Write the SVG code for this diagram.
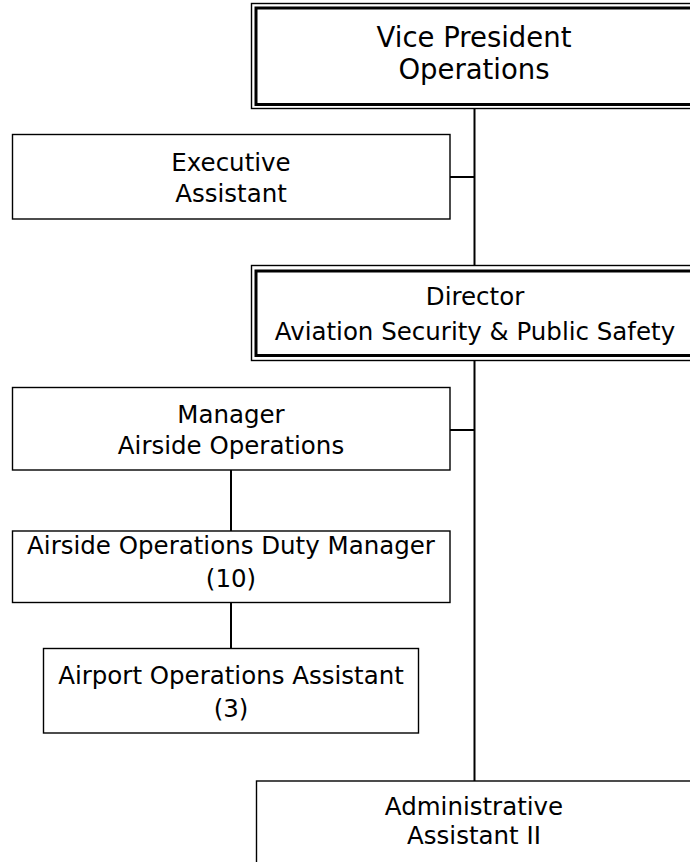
<svg xmlns="http://www.w3.org/2000/svg" width="690" height="862" viewBox="0 0 690 862">
  <style>
    text { font-family: "DejaVu Sans", Verdana, sans-serif; font-size: 24.5px; fill: #000; text-anchor: middle; }
    .big { font-size: 27.5px; }
    .box { fill: #fff; stroke: #000; stroke-width: 1.4; }
    .outer { fill: #fff; stroke: #000; stroke-width: 1.4; }
    .inner { fill: none; stroke: #000; stroke-width: 3; }
    .link { fill: none; stroke: #000; stroke-width: 2; }
  </style>
  <rect width="690" height="862" fill="#fff"/>

  <!-- reporting lines -->
  <g id="connectors">
    <path class="link" d="M474.5 108 V266"/>
    <path class="link" d="M450 177 H474.5"/>
    <path class="link" d="M474.5 360 V781"/>
    <path class="link" d="M450 430 H474.5"/>
    <path class="link" d="M231 470 V531"/>
    <path class="link" d="M231 602 V648.5"/>
  </g>

  <g id="vp-operations">
    <rect class="outer" x="251.5" y="3.5" width="460" height="105"/>
    <rect class="inner" x="256" y="8" width="450" height="96.5"/>
    <text class="big" x="474" y="47">Vice President</text>
    <text class="big" x="474" y="79">Operations</text>
  </g>

  <g id="executive-assistant">
    <rect class="box" x="12.5" y="134.5" width="437.5" height="84.5"/>
    <text x="231" y="171">Executive</text>
    <text x="231" y="202">Assistant</text>
  </g>

  <g id="director-security">
    <rect class="outer" x="251.5" y="265.5" width="460" height="95"/>
    <rect class="inner" x="256" y="271" width="450" height="84.5"/>
    <text x="475" y="305">Director</text>
    <text x="475" y="340">Aviation Security &amp; Public Safety</text>
  </g>

  <g id="manager-airside">
    <rect class="box" x="12.5" y="387.5" width="437.5" height="82.5"/>
    <text x="231" y="423">Manager</text>
    <text x="231" y="454">Airside Operations</text>
  </g>

  <g id="duty-manager">
    <rect class="box" x="12.5" y="531" width="437.5" height="71.5"/>
    <text x="231" y="553.5">Airside Operations Duty Manager</text>
    <text x="231" y="587">(10)</text>
  </g>

  <g id="operations-assistant">
    <rect class="box" x="43.5" y="648.5" width="375" height="84.5"/>
    <text x="231" y="684">Airport Operations Assistant</text>
    <text x="231" y="717">(3)</text>
  </g>

  <g id="admin-assistant">
    <rect class="box" x="256.5" y="781" width="460" height="100"/>
    <text x="474" y="815">Administrative</text>
    <text x="474" y="843.5">Assistant II</text>
  </g>
</svg>
